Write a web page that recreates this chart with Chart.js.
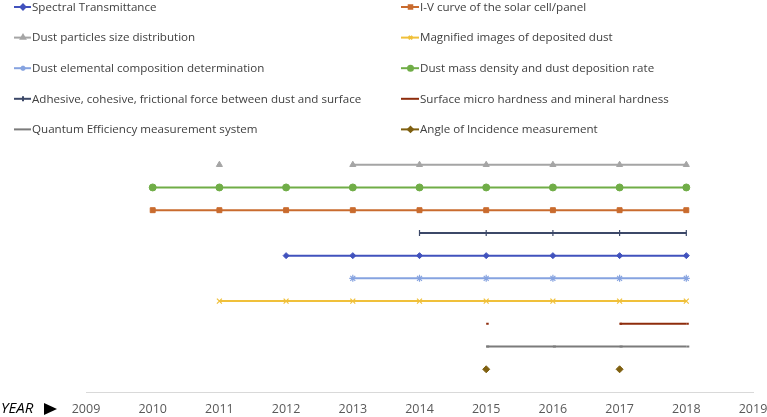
<!DOCTYPE html>
<html>
<head>
<meta charset="utf-8">
<script src="https://cdn.jsdelivr.net/npm/chart.js@4"></script>
<style>
  html, body { margin: 0; padding: 0; background: #fff; }
  #wrap { width: 767px; height: 417px; }
</style>
</head>
<body>
<div id="wrap"><canvas id="timeline"></canvas></div>
<script>
// x axis categories
const years = ['2009', '2010', '2011', '2012', '2013', '2014', '2015', '2016', '2017', '2018', '2019'];

// each technique sits on its own row (row number = value), null = not used that year
const spectral   = [null, null, null, 6, 6, 6, 6, 6, 6, 6, null];
const ivCurve    = [null, 8, 8, 8, 8, 8, 8, 8, 8, 8, null];
const particles  = [null, null, 10, null, 10, 10, 10, 10, 10, 10, null];
const magnified  = [null, null, 4, 4, 4, 4, 4, 4, 4, 4, null];
const elemental  = [null, null, null, null, 5, 5, 5, 5, 5, 5, null];
const massDens   = [null, 9, 9, 9, 9, 9, 9, 9, 9, 9, null];
const adhesive   = [null, null, null, null, null, 7, 7, 7, 7, 7, null];
const hardness   = [null, null, null, null, null, null, 3, null, 3, 3, null];
const quantum    = [null, null, null, null, null, null, 2, 2, 2, 2, null];
const incidence  = [null, null, null, null, null, null, 1, null, 1, null, null];

const seriesLabels = [
  'Spectral Transmittance',
  'I-V curve of the solar cell/panel',
  'Dust particles size distribution',
  'Magnified images of deposited dust',
  'Dust elemental composition determination',
  'Dust mass density and dust deposition rate',
  'Adhesive, cohesive, frictional force between dust and surface',
  'Surface micro hardness and mineral hardness',
  'Quantum Efficiency measurement system',
  'Angle of Incidence measurement'
];

const FONT = '"Open Sans", sans-serif';

function series(label, data, color, style, radius, rotation) {
  const thin = style === 'crossRot' || style === 'star' || style === 'line';
  return {
    label: label,
    data: data,
    borderColor: color,
    backgroundColor: color,
    borderWidth: 2,
    pointStyle: style,
    pointRadius: radius,
    pointHoverRadius: radius,
    pointRotation: rotation || 0,
    pointBorderWidth: style === 'dash' ? 2 : (thin ? 1.2 : 1),
    spanGaps: false
  };
}

// two column legend drawn above the plot
const columnLegend = {
  id: 'columnLegend',
  afterDraw(chart) {
    const c = chart.ctx;
    const xs = [[14, 32], [401, 420]];
    c.save();
    c.font = '11.6px ' + FONT;
    c.textBaseline = 'middle';
    chart.data.datasets.forEach((ds, i) => {
      const col = i % 2;
      const row = Math.floor(i / 2);
      const y = 7 + row * 30.6;
      const x0 = xs[col][0], x1 = xs[col][1];
      c.strokeStyle = ds.borderColor;
      c.fillStyle = ds.backgroundColor;
      c.lineWidth = 2;
      c.beginPath();
      c.moveTo(x0, y);
      c.lineTo(x1 - 1, y);
      c.stroke();
      if (ds.pointStyle !== 'dash') {
        Chart.helpers.drawPoint(c, {
          pointStyle: ds.pointStyle,
          rotation: ds.pointRotation,
          radius: 2.5,
          borderWidth: 1
        }, (x0 + x1) / 2, y);
      }
      c.fillStyle = '#404040';
      c.fillText(ds.label, x1, y + 0.5);
    });
    // axis caption at the left of the year labels
    const ya = 409;
    c.font = 'italic 15px ' + FONT;
    c.fillStyle = '#000';
    c.fillText('YEAR', 1, ya);
    c.beginPath();
    c.moveTo(44, ya - 6);
    c.lineTo(57, ya);
    c.lineTo(44, ya + 6);
    c.closePath();
    c.fill();
    c.restore();
  }
};

const chart = new Chart(document.getElementById('timeline'), {
  type: 'line',
  data: {
    labels: years,
    datasets: [
      series(seriesLabels[0], spectral, '#4152BD', 'rectRot', 3),
      series(seriesLabels[1], ivCurve, '#C96B2E', 'rect', 3.5),
      series(seriesLabels[2], particles, '#A5A5A5', 'triangle', 3.5),
      series(seriesLabels[3], magnified, '#F0C03A', 'crossRot', 3.5),
      series(seriesLabels[4], elemental, '#86A3E0', 'star', 3.5),
      series(seriesLabels[5], massDens, '#70AD47', 'circle', 3.5),
      series(seriesLabels[6], adhesive, '#3C4868', 'line', 3, 90),
      series(seriesLabels[7], hardness, '#8E2C0C', 'dash', 2.5),
      series(seriesLabels[8], quantum, '#7B7B7B', 'dash', 3),
      series(seriesLabels[9], incidence, '#7F6010', 'rectRot', 3.5)
    ]
  },
  options: {
    responsive: true,
    maintainAspectRatio: false,
    animation: false,
    layout: { padding: { top: 142, left: 86, right: 14, bottom: 0 } },
    plugins: {
      legend: { display: false },
      tooltip: { enabled: false }
    },
    scales: {
      x: {
        offset: false,
        grid: { display: false, drawTicks: false },
        border: { display: true, color: '#D9D9D9', width: 1 },
        ticks: {
          color: '#595959',
          font: { family: FONT, size: 12.5 },
          maxRotation: 0,
          autoSkip: false,
          padding: 10
        },
        afterFit(scale) {
          scale.height = 25;
          scale.paddingLeft = 0;
          scale.paddingRight = 0;
        }
      },
      y: {
        display: false,
        min: 0,
        max: 11
      }
    }
  },
  plugins: [columnLegend]
});
</script>
</body>
</html>
